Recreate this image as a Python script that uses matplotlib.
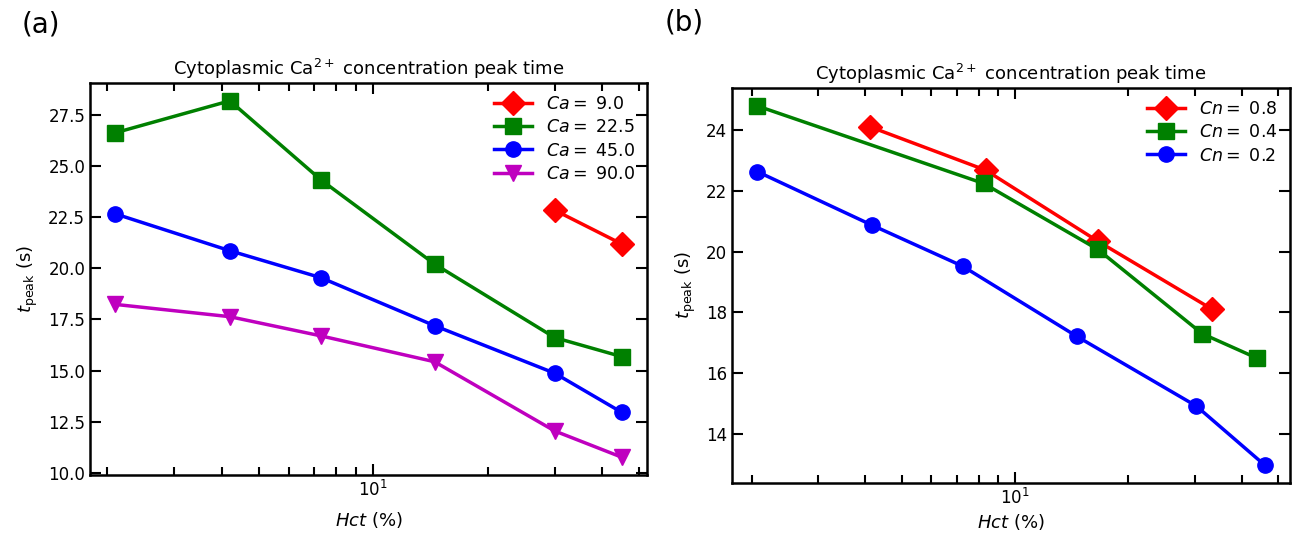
import matplotlib.pyplot as plt
import numpy as np

# panel (a): varying Ca
hct_a = [2.1, 4.2, 7.3, 14.5, 30.0, 45.0]
ca_9_x = [30.0, 45.0]
ca_9 = [22.83, 21.18]
ca_22 = [26.61, 28.17, 24.30, 20.20, 16.61, 15.68]
ca_45 = [22.65, 20.85, 19.53, 17.19, 14.87, 12.96]
ca_90 = [18.23, 17.63, 16.69, 15.43, 12.05, 10.77]

# panel (b): varying Cn
cn_08_x = [4.13, 8.35, 16.6, 33.3]
cn_08 = [24.10, 22.68, 20.34, 18.11]
cn_04_x = [2.07, 8.26, 16.6, 31.4, 44.0]
cn_04 = [24.79, 22.24, 20.07, 17.30, 16.49]
cn_02_x = [2.07, 4.17, 7.26, 14.6, 30.3, 46.0]
cn_02 = [22.63, 20.87, 19.52, 17.21, 14.92, 12.98]

plt.rcParams['font.size'] = 12

fig = plt.figure(figsize=(12.98, 5.36), dpi=100)
ax1 = fig.add_axes([90/1298, 1-475/536, 557/1298, 392/536])
ax2 = fig.add_axes([732/1298, 1-483/536, 558/1298, 395/536])

lw = 2.5
ax1.plot(ca_9_x, ca_9, 'r-D', lw=lw, ms=12, label=r'$Ca=$ 9.0')
ax1.plot(hct_a, ca_22, 'g-s', lw=lw, ms=11, label=r'$Ca=$ 22.5')
ax1.plot(hct_a, ca_45, 'b-o', lw=lw, ms=11, label=r'$Ca=$ 45.0')
ax1.plot(hct_a, ca_90, 'm-v', lw=lw, ms=11, label=r'$Ca=$ 90.0')

ax2.plot(cn_08_x, cn_08, 'r-D', lw=lw, ms=12, label=r'$Cn=$ 0.8')
ax2.plot(cn_04_x, cn_04, 'g-s', lw=lw, ms=11, label=r'$Cn=$ 0.4')
ax2.plot(cn_02_x, cn_02, 'b-o', lw=lw, ms=11, label=r'$Cn=$ 0.2')

for ax, pad in ((ax1, 7), (ax2, 3)):
    ax.set_xscale('log')
    ax.set_title(r'Cytoplasmic Ca$^{2+}$ concentration peak time', fontsize=13)
    ax.set_xlabel(r'$Hct$ (%)', fontsize=13, labelpad=pad)
    ax.set_ylabel(r'$t_{\mathrm{peak}}$ (s)', fontsize=13, labelpad=6)
    ax.tick_params(which='both', direction='in', top=True, right=True, width=1.5, labelsize=12)
    ax.tick_params(which='major', length=8)
    ax.tick_params(which='minor', length=6)
    for s in ax.spines.values():
        s.set_linewidth(1.8)
    ax.legend(loc='upper right', frameon=False, fontsize=12.5, handlelength=2.2,
              borderaxespad=0.3, labelspacing=0.3)

ax2.set_yticks([14, 16, 18, 20, 22, 24])

fig.text(22/1298, 1-25/536, '(a)', fontsize=20, va='center')
fig.text(665/1298, 1-22/536, '(b)', fontsize=20, va='center')

fig.savefig('out.png', dpi=100)
